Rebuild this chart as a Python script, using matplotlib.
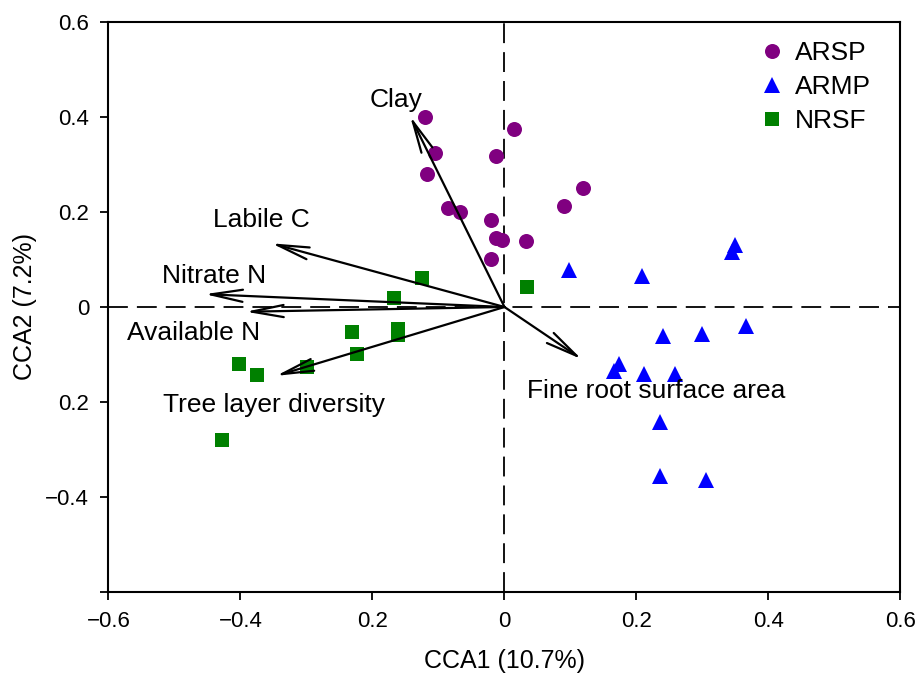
import matplotlib
matplotlib.use('Agg')
import matplotlib.pyplot as plt

plt.rcParams['font.family'] = ['Liberation Sans', 'DejaVu Sans']

# site scores
arsp_x = [-0.12, 0.015, -0.105, -0.013, -0.117, 0.119, 0.090, -0.085, -0.067, -0.021, -0.013, -0.004, 0.032, -0.021]
arsp_y = [0.40, 0.375, 0.324, 0.318, 0.281, 0.250, 0.213, 0.208, 0.201, 0.184, 0.146, 0.142, 0.139, 0.102]

armp_x = [0.097, 0.209, 0.349, 0.344, 0.240, 0.300, 0.366, 0.173, 0.166, 0.211, 0.258, 0.236, 0.236, 0.305]
armp_y = [0.077, 0.066, 0.130, 0.116, -0.061, -0.057, -0.041, -0.121, -0.135, -0.142, -0.142, -0.243, -0.355, -0.365]

nrsf_x = [-0.125, -0.168, -0.231, -0.162, -0.162, -0.224, -0.299, -0.403, -0.375, 0.034, -0.428]
nrsf_y = [0.061, 0.018, -0.053, -0.046, -0.059, -0.100, -0.127, -0.121, -0.144, 0.042, -0.280]

# environmental vectors
env_names = ['Clay', 'Labile C', 'Nitrate N', 'Available N', 'Tree layer diversity', 'Fine root surface area']
env_x = [-0.143, -0.353, -0.454, -0.392, -0.346, 0.117]
env_y = [0.402, 0.134, 0.027, -0.010, -0.145, -0.110]

# tick labels as printed in the original figure
xtick_vals = [-0.6, -0.4, -0.2, 0, 0.2, 0.4, 0.6]
xtick_labels = ['\u22120.6', '\u22120.4', '0.2', '0', '0.2', '0.4', '0.6']
ytick_vals = [0.6, 0.4, 0.2, 0, -0.2, -0.4, -0.6]
ytick_labels = ['0.6', '0.4', '0.2', '0', '0.2', '\u22120.4', '']

fig = plt.figure(figsize=(9.17, 6.73), dpi=100)
ax = fig.add_axes([0.1183, 0.1204, 0.8637, 0.8469])

ax.axhline(0, color='k', lw=1.3, linestyle=(0, (11, 5)), zorder=1)
ax.axvline(0, color='k', lw=1.3, linestyle=(0, (11, 5)), zorder=1)

ax.plot(arsp_x, arsp_y, 'o', color='#800080', ms=10.8, mew=0, label='ARSP', zorder=3)
ax.plot(armp_x, armp_y, '^', color='#0000ff', ms=11, mew=0, label='ARMP', zorder=3)
ax.plot(nrsf_x, nrsf_y, 's', color='#008000', ms=9.4, mew=0, label='NRSF', zorder=3)

for ex, ey in zip(env_x, env_y):
    ax.annotate('', xy=(ex, ey), xytext=(0, 0),
                arrowprops=dict(arrowstyle='->,head_length=1.0,head_width=0.19',
                                mutation_scale=23, lw=1.6, color='k',
                                shrinkA=0, shrinkB=0), zorder=4)

# label anchors (left, baseline)
label_x = [-0.204, -0.442, -0.519, -0.572, -0.517, 0.034]
label_y = [0.421, 0.168, 0.051, -0.069, -0.221, -0.192]
for name, lx, ly in zip(env_names, label_x, label_y):
    ax.text(lx, ly, name, fontsize=19, ha='left', va='baseline', zorder=5)

ax.set_xlim(-0.6, 0.6)
ax.set_ylim(-0.6, 0.6)
ax.set_xticks(xtick_vals)
ax.set_xticklabels(xtick_labels)
ax.set_yticks(ytick_vals)
ax.set_yticklabels(ytick_labels)
ax.tick_params(direction='out', length=6, width=1.3, labelsize=16, pad=8)

for sp in ax.spines.values():
    sp.set_linewidth(1.5)

ax.set_xlabel('CCA1 (10.7%)', fontsize=18, labelpad=12)
ax.set_ylabel('CCA2 (7.2%)', fontsize=18, labelpad=6)

ax.legend(loc='upper left', bbox_to_anchor=(0.821, 0.967), frameon=False, fontsize=19,
          borderpad=0, borderaxespad=0, handlelength=1.0, handletextpad=0.38,
          labelspacing=0.38, numpoints=1)

plt.savefig('out.png', dpi=100)
